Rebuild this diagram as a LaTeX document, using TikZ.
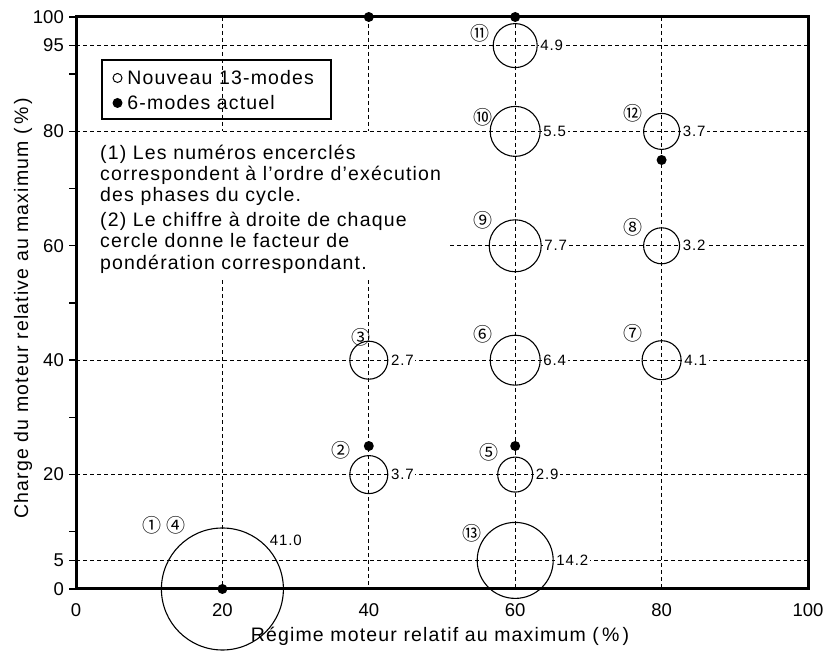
\documentclass[tikz,border=0pt]{standalone}
\usepackage{fontspec}
\setmainfont{Liberation Sans}
\newfontfamily\circfont{Noto Sans CJK JP}
\newfontfamily\txtfont[LetterSpace=6]{Liberation Sans}
\begin{document}
\begin{tikzpicture}[x=7.32pt,y=5.72pt,
  grid/.style={dash pattern=on 4pt off 3pt, line width=1pt},
  bub/.style={circle, draw, line width=1.1pt, inner sep=0pt},
  dot/.style={circle, fill, inner sep=0pt, minimum size=10pt},
  val/.style={font=\txtfont\fontsize{15}{15}\selectfont, fill=white, inner sep=1.5pt, anchor=west},
  num/.style={font=\circfont\fontsize{19}{19}\selectfont, inner sep=0pt},
  ticklab/.style={font=\fontsize{18.5}{18.5}\selectfont, inner sep=0pt},
  body/.style={font=\txtfont\fontsize{19.5}{21.3}\selectfont, inner sep=0pt, align=left},
]
\useasboundingbox (-10.383,-10.839) rectangle (102.186,102.972);
% grid lines
\draw[grid] (0,95) -- (100,95);
\draw[grid] (0,80) -- (100,80);
\draw[grid] (51.1,60) -- (100,60);
\draw[grid] (0,40) -- (100,40);
\draw[grid] (0,20) -- (100,20);
\draw[grid] (0,5) -- (100,5);
\draw[grid] (20,100) -- (20,80);
\draw[grid] (40,100) -- (40,80);
\draw[grid] (20,54) -- (20,0);
\draw[grid] (40,54) -- (40,0);
\draw[grid] (60,100) -- (60,0);
\draw[grid] (80,100) -- (80,0);
% frame and ticks
\draw[line width=3pt] (0,0) rectangle (100,100);
\foreach \t in {0,5,10,20,30,40,50,60,70,80,90,95,100}
  \draw[line width=1.4pt] (0,\t) -- ++(-7pt,0);
% y tick labels
\foreach \t in {0,5,20,40,60,80,95,100}
  \node[ticklab, anchor=east] (yl\t) at (-1.64,\t) {\t};
% x tick labels
\foreach \t in {0,20,40,60,80,100}
  \node[ticklab] (xl\t) at (\t,-3.67) {\t};
% axis titles
\node[body] (xt) at (49.73,-8.22) {Régime moteur relatif au maximum (\,\%\,)};
\node[body, rotate=90] (yt) at (-7.24,49.13) {Charge du moteur relative au maximum (\,\%\,)};
% legend
\draw[line width=1.2pt] (3.55,82.17) rectangle (34.84,92.48);
\node[circle, draw, line width=1pt, inner sep=0pt, minimum size=9pt] (lo) at (5.67,89.34) {};
\node[body, anchor=west] (lt1) at (7.0,89.34) {Nouveau 13-modes};
\node[dot, minimum size=10pt] (lf) at (5.67,84.97) {};
\node[body, anchor=west] (lt2) at (7.0,84.97) {6-modes actuel};
% notes
\node[body, anchor=base west] (n1) at (3.28,67.66) {(1) Les numéros encerclés\\correspondent à l’ordre d’exécution\\des phases du cycle.};
\node[body, anchor=base west] (n2) at (3.28,55.94) {(2) Le chiffre à droite de chaque\\cercle donne le facteur de\\pondération correspondant.};
% bubbles
\node[bub, minimum size=44pt] (c11) at (60,95) {};
\node[bub, minimum size=50pt] (c10) at (60,80) {};
\node[bub, minimum size=52pt] (c9) at (60,60) {};
\node[bub, minimum size=50pt] (c6) at (60,40) {};
\node[bub, minimum size=38pt] (c3) at (40,40) {};
\node[bub, minimum size=36pt] (c12) at (80,80) {};
\node[bub, minimum size=36pt] (c8) at (80,60) {};
\node[bub, minimum size=39pt] (c7) at (80,40) {};
\node[bub, minimum size=38pt] (c2) at (40,20) {};
\node[bub, minimum size=35pt] (c5) at (60,20) {};
\node[bub, minimum size=76pt] (c13) at (60,5) {};
\node[bub, minimum size=122pt] (c1) at (20,0) {};
% value labels
\node[val] (v11) at ([xshift=1pt]c11.east) {4.9};
\node[val] (v10) at ([xshift=1pt]c10.east) {5.5};
\node[val] (v9) at ([xshift=1pt]c9.east) {7.7};
\node[val] (v6) at ([xshift=1pt]c6.east) {6.4};
\node[val] (v3) at ([xshift=1pt]c3.east) {2.7};
\node[val] (v12) at ([xshift=1pt]c12.east) {3.7};
\node[val] (v8) at ([xshift=1pt]c8.east) {3.2};
\node[val] (v7) at ([xshift=1pt]c7.east) {4.1};
\node[val] (v2) at ([xshift=1pt]c2.east) {3.7};
\node[val] (v5) at ([xshift=1pt]c5.east) {2.9};
\node[val] (v13) at ([xshift=1pt]c13.east) {14.2};
\node[val, fill=none, anchor=south west] (v1) at (c1.42) {41.0};
% circled numbers
\node[num] (k11) at (55.19,97.20) {⑪};
\node[num] (k10) at (55.60,82.52) {⑩};
\node[num] (k9) at (55.60,64.51) {⑨};
\node[num] (k6) at (55.60,44.58) {⑥};
\node[num] (k3) at (38.93,44.06) {③};
\node[num] (k12) at (76.09,83.22) {⑫};
\node[num] (k8) at (76.09,63.29) {⑧};
\node[num] (k7) at (76.09,44.76) {⑦};
\node[num] (k2) at (36.20,24.30) {②};
\node[num] (k5) at (56.42,23.95) {⑤};
\node[num] (k13) at (54.10,9.79) {⑬};
\node[num] (k1) at (10.38,11.19) {①};
\node[num] (k4) at (13.66,11.19) {④};
% current 6-mode points
\node[dot] (d1) at (20,0) {};
\node[dot] (d2) at (40,25) {};
\node[dot] (d3) at (60,25) {};
\node[dot] (d4) at (80,75) {};
\node[dot] (d5) at (40,100) {};
\node[dot] (d6) at (60,100) {};
\end{tikzpicture}
\end{document}
